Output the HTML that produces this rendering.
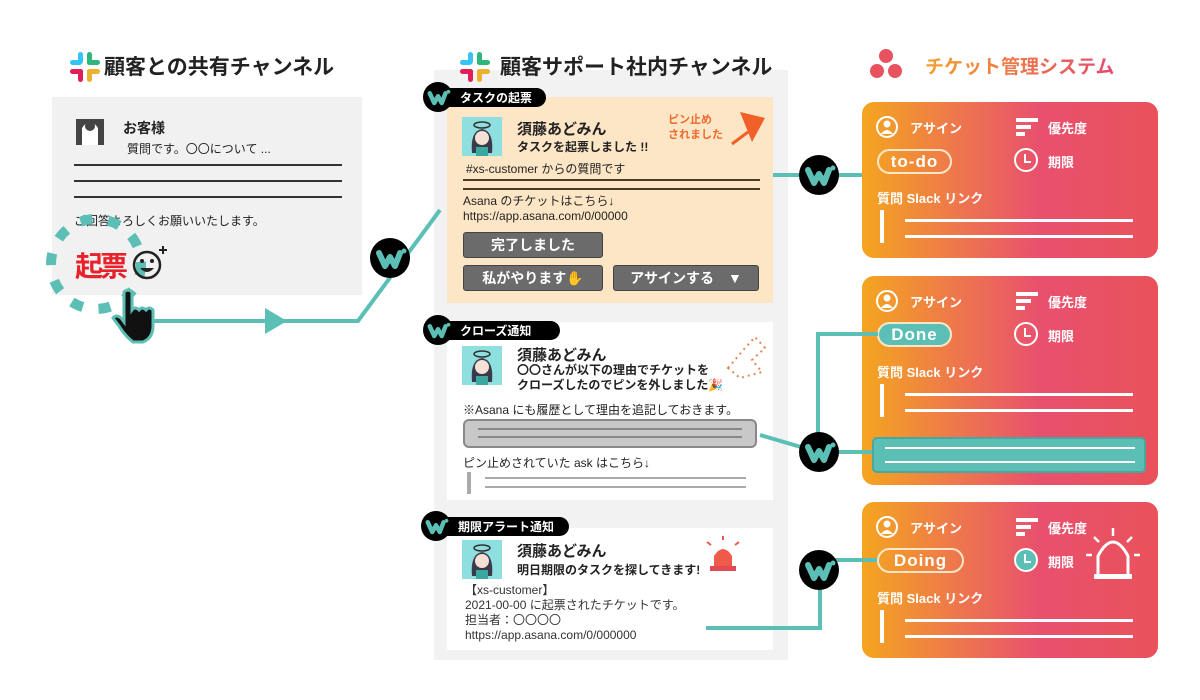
<!DOCTYPE html>
<html><head><meta charset="utf-8"><style>
*{margin:0;padding:0;box-sizing:border-box}
body{width:1200px;height:700px;background:#fff;position:relative;overflow:hidden;font-family:"Liberation Sans","Noto Sans CJK JP",sans-serif;color:#222}
.a{position:absolute;white-space:nowrap}
.b{font-weight:bold}
.rc{position:absolute;left:862px;width:296px;border-radius:12px;background:linear-gradient(90deg,#f4a51f 0%,#ee7a4a 30%,#e9506e 60%,#e9525a 100%)}
.w{color:#fff;font-weight:bold;font-size:13px}
.pill{position:absolute;border:2px solid #fbe7c8;border-radius:13px;color:#fff;font-weight:bold;font-size:17px;text-align:center;line-height:21px;letter-spacing:1px}
.btn{position:absolute;background:#6b6b6b;border:1px solid #444;border-radius:3px;color:#fff;font-weight:bold;font-size:14px;text-align:center;line-height:25px}
.f12{font-size:12px}
</style></head><body>

<!-- left panel -->
<div class="a" style="left:52px;top:97px;width:310px;height:198px;background:#f1f1f1"></div>
<div class="a b" style="left:123px;top:118px;font-size:14px">お客様</div>
<div class="a" style="left:127px;top:140px;font-size:12px">質問です。〇〇について ...</div>
<div class="a" style="left:74px;top:164px;width:268px;height:2px;background:#333"></div>
<div class="a" style="left:74px;top:180px;width:268px;height:2px;background:#333"></div>
<div class="a" style="left:74px;top:196px;width:268px;height:2px;background:#333"></div>
<div class="a" style="left:74px;top:212px;font-size:12px">ご回答よろしくお願いいたします。</div>
<div class="a b" style="left:75px;top:245px;font-size:28px;color:#e8222a;letter-spacing:-3px">起票</div>

<!-- middle panel -->
<div class="a" style="left:434px;top:70px;width:354px;height:590px;background:#f2f2f2"></div>
<div class="a" style="left:447px;top:97px;width:326px;height:206px;background:#fde6c6"></div>
<div class="a" style="left:447px;top:322px;width:326px;height:178px;background:#fff"></div>
<div class="a" style="left:447px;top:528px;width:326px;height:122px;background:#fff"></div>

<!-- titles -->
<div class="a b" style="left:104px;top:51px;font-size:21px">顧客との共有チャンネル</div>
<div class="a b" style="left:500px;top:51px;font-size:21px">顧客サポート社内チャンネル</div>
<div class="a b" style="left:925px;top:52px;font-size:19px;background:linear-gradient(90deg,#f2a12c,#e64a6e);-webkit-background-clip:text;color:transparent">チケット管理システム</div>

<!-- card1 -->
<div class="a b" style="left:517px;top:118px;font-size:15px">須藤あどみん</div>
<div class="a b" style="left:517px;top:138px;font-size:12px">タスクを起票しました !!</div>
<div class="a b" style="left:668px;top:113px;font-size:11px;color:#ef6a2e;line-height:15px">ピン止め<br>されました</div>
<div class="a f12" style="left:466px;top:160px">#xs-customer からの質問です</div>
<div class="a" style="left:463px;top:179px;width:297px;height:2px;background:#4a3a2a"></div>
<div class="a" style="left:463px;top:188px;width:297px;height:2px;background:#4a3a2a"></div>
<div class="a f12" style="left:463px;top:194px;line-height:15px">Asana のチケットはこちら↓<br>https://app.asana.com/0/00000</div>
<div class="btn" style="left:463px;top:232px;width:140px;height:26px">完了しました</div>
<div class="btn" style="left:463px;top:265px;width:140px;height:26px">私がやります✋</div>
<div class="btn" style="left:613px;top:265px;width:146px;height:26px">アサインする　▼</div>

<!-- card2 -->
<div class="a b" style="left:517px;top:344px;font-size:15px">須藤あどみん</div>
<div class="a b" style="left:517px;top:363px;font-size:12px;line-height:15px">〇〇さんが以下の理由でチケットを<br>クローズしたのでピンを外しました🎉</div>
<div class="a f12" style="left:463px;top:401px">※Asana にも履歴として理由を追記しておきます。</div>
<div class="a" style="left:463px;top:419px;width:294px;height:29px;background:#c8c8c8;border:2px solid #888;border-radius:6px"></div>
<div class="a" style="left:478px;top:428px;width:264px;height:2px;background:#888"></div>
<div class="a" style="left:478px;top:436px;width:264px;height:2px;background:#888"></div>
<div class="a f12" style="left:463px;top:454px">ピン止めされていた ask はこちら↓</div>
<div class="a" style="left:467px;top:472px;width:4px;height:22px;background:#aaa"></div>
<div class="a" style="left:485px;top:477px;width:261px;height:2px;background:#aaa"></div>
<div class="a" style="left:485px;top:486px;width:261px;height:2px;background:#aaa"></div>

<!-- card3 -->
<div class="a b" style="left:517px;top:540px;font-size:15px">須藤あどみん</div>
<div class="a b" style="left:517px;top:561px;font-size:12px">明日期限のタスクを探してきます!</div>
<div class="a f12" style="left:465px;top:583px;line-height:15px;color:#333">【xs-customer】<br>2021-00-00 に起票されたチケットです。<br>担当者：〇〇〇〇<br>https://app.asana.com/0/000000</div>

<!-- right cards -->
<div class="rc" style="top:102px;height:156px"></div>
<div class="rc" style="top:276px;height:209px"></div>
<div class="rc" style="top:502px;height:156px"></div>

<div class="a w" style="left:910px;top:118px">アサイン</div><div class="a w" style="left:1048px;top:118px">優先度</div>
<div class="pill" style="left:877px;top:149px;width:75px;height:25px">to-do</div>
<div class="a w" style="left:1048px;top:152px">期限</div>
<div class="a w" style="left:877px;top:188px">質問 Slack リンク</div>

<div class="a w" style="left:910px;top:292px">アサイン</div><div class="a w" style="left:1048px;top:292px">優先度</div>
<div class="pill" style="left:877px;top:322px;width:75px;height:25px;background:#5bbfb5">Done</div>
<div class="a w" style="left:1048px;top:326px">期限</div>
<div class="a w" style="left:877px;top:362px">質問 Slack リンク</div>
<div class="a" style="left:872px;top:437px;width:274px;height:36px;background:#5bbfb5;border:2px solid #4aa79e;border-radius:5px"></div>

<div class="a w" style="left:910px;top:518px">アサイン</div><div class="a w" style="left:1048px;top:518px">優先度</div>
<div class="pill" style="left:877px;top:548px;width:87px;height:25px">Doing</div>
<div class="a w" style="left:1048px;top:552px">期限</div>
<div class="a w" style="left:877px;top:588px">質問 Slack リンク</div>

<svg class="a" style="left:0;top:0" width="1200" height="700" viewBox="0 0 1200 700">
<defs>
<g id="W"><circle r="20" fill="#000"/><path d="M-11,-5 L-5,8 L0,-1 L5,8 L10,-5" fill="none" stroke="#5bbfb5" stroke-width="6" stroke-linejoin="round" stroke-linecap="round"/><circle cx="14" cy="-7" r="2.5" fill="#5bbfb5"/></g>
<g id="user"><circle r="10" fill="none" stroke="#fff" stroke-width="2"/><circle cy="-3" r="3.5" fill="#fff"/><path d="M-6,7 Q0,-1 6,7" fill="#fff"/></g>
<g id="pri"><rect x="0" y="0" width="22" height="4" fill="#fff"/><rect x="0" y="7" width="15" height="4" fill="#fff"/><rect x="0" y="14" width="9" height="4" fill="#fff"/></g>
<g id="clk"><circle r="11" fill="none" stroke="#fff" stroke-width="2"/><path d="M-1,-6 V2 H5" fill="none" stroke="#fff" stroke-width="2"/></g>
<g id="lines"><rect x="0" y="0" width="4" height="33" fill="#fff"/><rect x="25" y="9" width="228" height="3" fill="#fff"/><rect x="25" y="25" width="228" height="3" fill="#fff"/></g>
<g id="av"><rect width="40" height="39" fill="#8ee0e0"/><ellipse cx="20" cy="8" rx="8" ry="3" fill="none" stroke="#333" stroke-width="1.5"/><path d="M10,36 Q8,14 20,12 Q32,14 30,36 Z" fill="#3a3a4a"/><circle cx="20" cy="21" r="7" fill="#f5e0d5"/><rect x="14" y="30" width="12" height="9" fill="#3aa7a0"/></g>
</defs>
<g transform="translate(70,52)"><rect x="8" y="0" width="5" height="12" rx="2.5" fill="#36c5f0"/><rect x="0" y="8" width="12" height="5" rx="2.5" fill="#36c5f0"/><rect x="17" y="0" width="5" height="13" rx="2.5" fill="#2eb67d"/><rect x="17" y="8" width="13" height="5" rx="2.5" fill="#2eb67d"/><rect x="0" y="17" width="13" height="5" rx="2.5" fill="#e01e5a"/><rect x="8" y="17" width="5" height="13" rx="2.5" fill="#e01e5a"/><rect x="17" y="17" width="13" height="5" rx="2.5" fill="#ecb22e"/><rect x="17" y="17" width="5" height="13" rx="2.5" fill="#ecb22e"/></g>
<g transform="translate(460,52)"><rect x="8" y="0" width="5" height="12" rx="2.5" fill="#36c5f0"/><rect x="0" y="8" width="12" height="5" rx="2.5" fill="#36c5f0"/><rect x="17" y="0" width="5" height="13" rx="2.5" fill="#2eb67d"/><rect x="17" y="8" width="13" height="5" rx="2.5" fill="#2eb67d"/><rect x="0" y="17" width="13" height="5" rx="2.5" fill="#e01e5a"/><rect x="8" y="17" width="5" height="13" rx="2.5" fill="#e01e5a"/><rect x="17" y="17" width="13" height="5" rx="2.5" fill="#ecb22e"/><rect x="17" y="17" width="5" height="13" rx="2.5" fill="#ecb22e"/></g>
<circle cx="886" cy="56" r="7" fill="#e8525e"/><circle cx="877" cy="71" r="7" fill="#e8525e"/><circle cx="895" cy="71" r="7" fill="#e8525e"/>
<rect x="76" y="119" width="28" height="26" fill="#444"/><path d="M82,145 V128 Q90,116 98,128 V145 Z" fill="#fff"/><circle cx="90" cy="126" r="5" fill="#444"/>
<circle cx="96" cy="264" r="45" fill="none" stroke="#5bbfb5" stroke-width="10" stroke-dasharray="12 16"/>
<circle cx="147" cy="265" r="13" fill="none" stroke="#222" stroke-width="2.5"/><circle cx="142" cy="261" r="2" fill="#222"/><circle cx="152" cy="261" r="2" fill="#222"/><path d="M140,268 Q147,276 154,268 Z" fill="#222"/><path d="M159,250 h8 M163,246 v8" stroke="#222" stroke-width="2"/>
<g stroke="#5bbfb5" stroke-width="4" fill="none">
<path d="M150,321 H358 L440,210"/>
<path d="M773,175 H862"/>
<path d="M760,435 L818,452 H872"/>
<path d="M818,452 V334 H878"/>
<path d="M706,628 H820 V560 H877"/>
</g>
<polygon points="265,308 287,321 265,334" fill="#5bbfb5"/>
<path d="M124,292 q4,-4 8,0 v18 q3,-4 7,0 q3,-4 7,0 q3,-4 7,0 v16 q0,12 -10,16 h-10 q-8,-6 -14,-16 l-6,-8 q3,-4 8,0 l3,4 z" fill="#111" stroke="#5bbfb5" stroke-width="3"/>
<use href="#W" x="390" y="258"/>
<use href="#W" x="819" y="175"/>
<use href="#W" x="819" y="452"/>
<use href="#W" x="819" y="570"/>
<rect x="438" y="88" width="108" height="19" rx="9.5" fill="#000"/><g transform="translate(438,97) scale(0.75)"><use href="#W"/></g>
<rect x="438" y="321" width="122" height="19" rx="9.5" fill="#000"/><g transform="translate(438,330) scale(0.75)"><use href="#W"/></g>
<rect x="436" y="517" width="133" height="19" rx="9.5" fill="#000"/><g transform="translate(436,526) scale(0.75)"><use href="#W"/></g>
<text x="460" y="102" fill="#fff" font-size="12" font-weight="bold" font-family="Liberation Sans,Noto Sans CJK JP,sans-serif">タスクの起票</text>
<text x="460" y="335" fill="#fff" font-size="12" font-weight="bold" font-family="Liberation Sans,Noto Sans CJK JP,sans-serif">クローズ通知</text>
<text x="458" y="531" fill="#fff" font-size="12" font-weight="bold" font-family="Liberation Sans,Noto Sans CJK JP,sans-serif">期限アラート通知</text>
<use href="#av" x="462" y="117"/><use href="#av" x="462" y="346"/><use href="#av" x="462" y="540"/>
<path d="M740,112 L765,118 L752,142 Z" fill="#f06028"/><path d="M748,132 L732,144" stroke="#f06028" stroke-width="3"/>
<path d="M728,368 L745,348 L755,337 L765,348 L752,360 L762,372 L740,378 Z" fill="none" stroke="#e08a50" stroke-width="2" stroke-dasharray="2 4"/>
<path d="M714,566 V556 Q723,542 732,556 V566 Z" fill="#f05a4a"/><rect x="710" y="566" width="26" height="5" fill="#e04a50"/><path d="M723,540 v-4 M711,545 l-4,-3 M735,545 l4,-3" stroke="#f05a4a" stroke-width="2"/>
<use href="#user" x="887" y="127"/><use href="#pri" x="1016" y="118"/><use href="#clk" x="1026" y="160"/><use href="#lines" x="880" y="210"/>
<use href="#user" x="887" y="301"/><use href="#pri" x="1016" y="292"/><use href="#clk" x="1026" y="334"/><use href="#lines" x="880" y="384"/>
<rect x="885" y="447" width="250" height="2" fill="#fff"/><rect x="885" y="461" width="250" height="2" fill="#fff"/>
<use href="#user" x="887" y="527"/><use href="#pri" x="1016" y="518"/><circle cx="1026" cy="560" r="11" fill="#5bbfb5"/><use href="#clk" x="1026" y="560"/><use href="#lines" x="880" y="610"/>
<path d="M1098,574 V556 Q1113,528 1128,556 V574" fill="none" stroke="#fff" stroke-width="3"/><rect x="1094" y="574" width="38" height="5" fill="#fff"/><path d="M1113,536 v-8 M1099,542 l-5,-5 M1127,542 l5,-5 M1092,555 h-6 M1134,555 h6" stroke="#fff" stroke-width="2.5"/>
</svg>
</body></html>
